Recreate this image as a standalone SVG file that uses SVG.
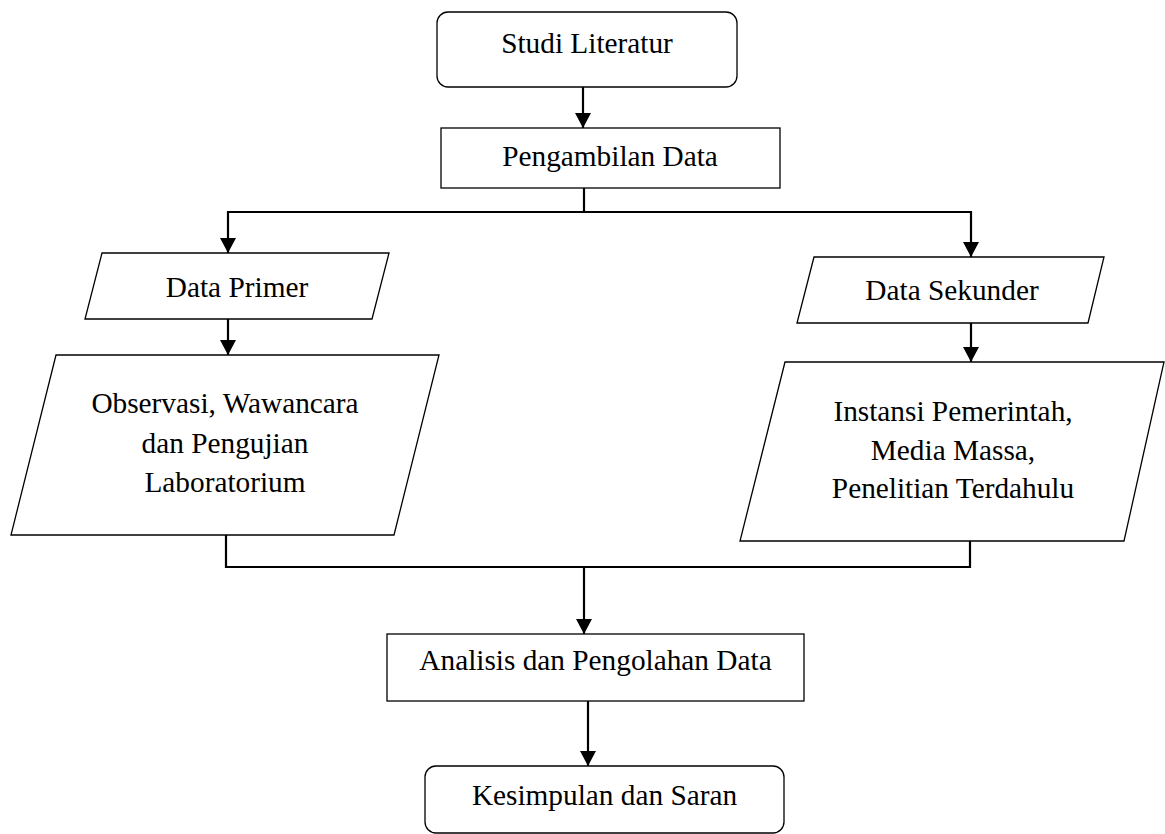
<svg xmlns="http://www.w3.org/2000/svg" width="1165" height="834" viewBox="0 0 1165 834">
<style>
.box{fill:#fff;stroke:#000;stroke-width:1.3}
.t{font-family:"Liberation Serif","Times New Roman",serif;font-size:29.3px;fill:#000}
.c{text-anchor:middle}
.ln{fill:none;stroke:#000;stroke-width:2.2}
</style>
<defs>
<marker id="ah" markerUnits="userSpaceOnUse" markerWidth="16" markerHeight="17" refX="15" refY="8" orient="auto">
<path d="M0,0 L15,8 L0,16 Z" fill="#000"/>
</marker>
</defs>
<rect width="1165" height="834" fill="#fff"/>
<g id="connectors">
<line class="ln" x1="583" y1="87" x2="583" y2="128" marker-end="url(#ah)"/>
<polyline class="ln" points="584,188 584,212"/>
<polyline class="ln" points="971,212 228,212 228,253" marker-end="url(#ah)"/>
<line class="ln" x1="971" y1="211" x2="971" y2="257" marker-end="url(#ah)"/>
<line class="ln" x1="228" y1="319" x2="228" y2="355" marker-end="url(#ah)"/>
<line class="ln" x1="971" y1="323" x2="971" y2="362" marker-end="url(#ah)"/>
<polyline class="ln" points="226,535 226,567 970,567 970,541"/>
<line class="ln" x1="584" y1="567" x2="584" y2="634" marker-end="url(#ah)"/>
<line class="ln" x1="588" y1="701" x2="588" y2="766" marker-end="url(#ah)"/>
</g>
<g id="studi">
<rect class="box" x="437" y="12" width="300" height="75" rx="11"/>
<text class="t c" x="587" y="53">Studi Literatur</text>
</g>
<g id="pengambilan">
<rect class="box" x="441" y="128" width="339" height="60"/>
<text class="t c" x="610" y="166">Pengambilan Data</text>
</g>
<g id="primer">
<polygon class="box" points="102,253 389,253 372,319 85,319"/>
<text class="t c" x="237" y="297">Data Primer</text>
</g>
<g id="sekunder">
<polygon class="box" points="814,257 1104,257 1088,323 797,323"/>
<text class="t c" x="952" y="300">Data Sekunder</text>
</g>
<g id="observasi">
<polygon class="box" points="56,355 439,355 394,535 11,535"/>
<text class="t c" x="225" y="413">Observasi, Wawancara</text>
<text class="t c" x="225" y="453">dan Pengujian</text>
<text class="t c" x="225" y="492">Laboratorium</text>
</g>
<g id="instansi">
<polygon class="box" points="785,362 1164,362 1124,541 740,541"/>
<text class="t c" x="953" y="421">Instansi Pemerintah,</text>
<text class="t c" x="953" y="460">Media Massa,</text>
<text class="t c" x="953" y="498">Penelitian Terdahulu</text>
</g>
<g id="analisis">
<rect class="box" x="387" y="634" width="417" height="67"/>
<text class="t c" x="595.5" y="670">Analisis dan Pengolahan Data</text>
</g>
<g id="kesimpulan">
<rect class="box" x="425" y="766" width="359" height="67" rx="11"/>
<text class="t c" x="604.5" y="805">Kesimpulan dan Saran</text>
</g>
</svg>
